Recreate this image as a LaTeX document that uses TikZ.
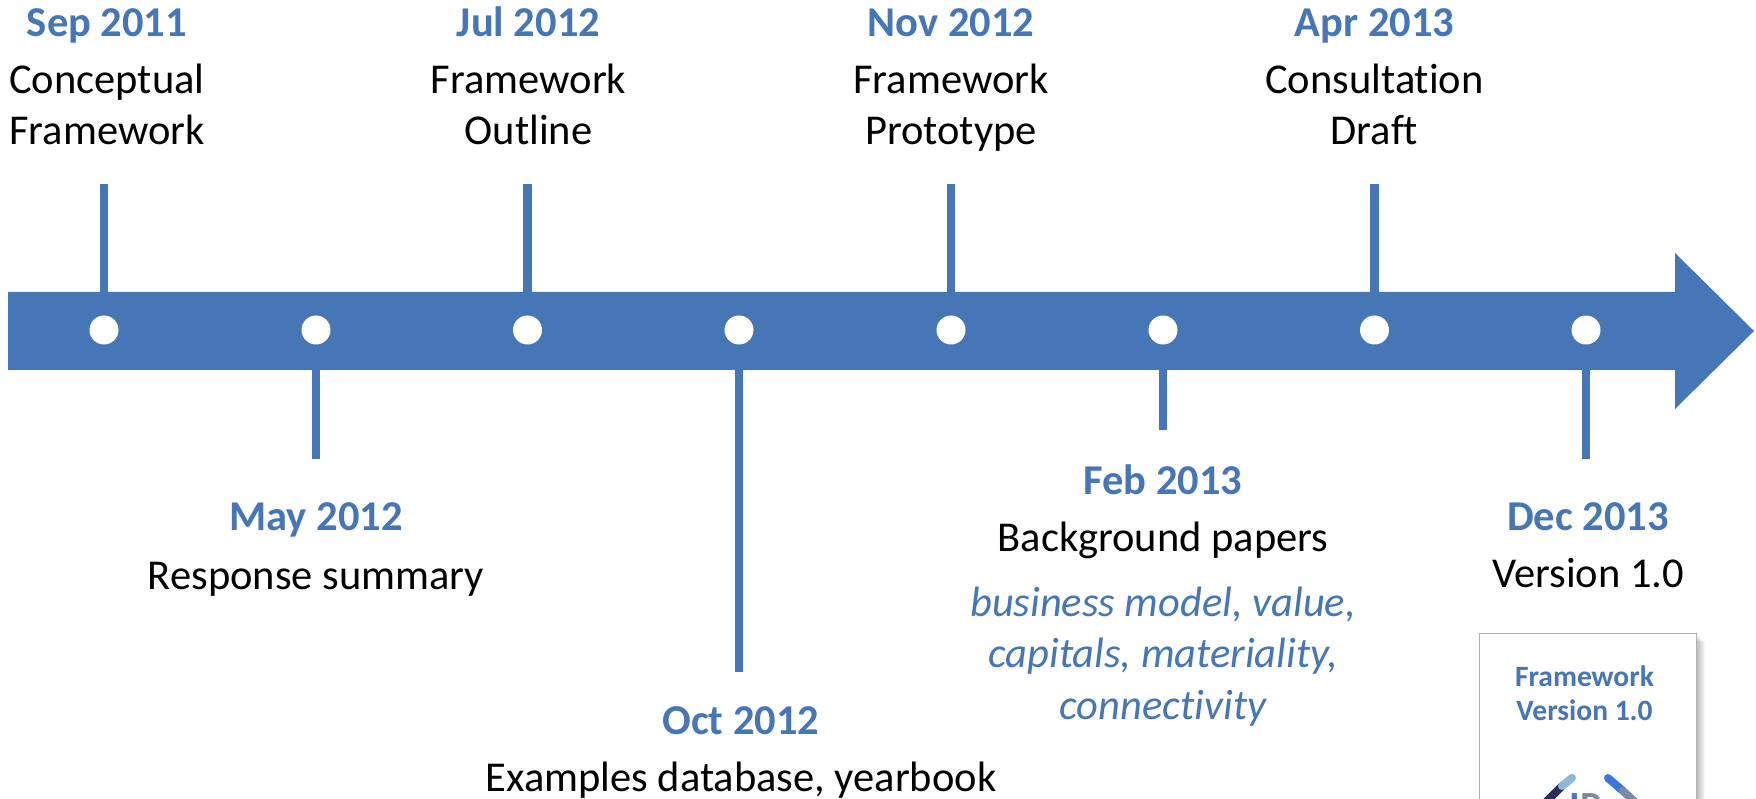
\documentclass[tikz,border=0pt]{standalone}
\usepackage{fontspec}
\setmainfont[Ligatures=NoCommon]{Carlito}
\usetikzlibrary{positioning}
\definecolor{barblue}{RGB}{70,118,181}
\definecolor{logodark}{RGB}{45,45,90}
\definecolor{logolight}{RGB}{140,185,210}
\definecolor{logoblue}{RGB}{60,120,220}
\definecolor{logogrey}{RGB}{120,140,165}
\begin{document}
\begin{tikzpicture}
              [x=1pt,y=-1pt,
                every node/.style={draw=none,fill=none,inner sep=0pt,outer sep=0pt},
                dot/.style={circle,fill=white,minimum size=29pt},
                stem/.style={draw=barblue,line width=8.5pt},
                date/.style={font=\fontsize{42.5}{51}\selectfont\bfseries,text=barblue,text height=29pt,text depth=9pt},
                desc/.style={font=\fontsize{42.5}{51.5}\selectfont,align=center,execute at begin node=\strut},
                topic/.style={font=\fontsize{42.5}{51.5}\selectfont\itshape,text=barblue,align=center,execute at begin node=\strut},
                logoline/.style={line width=8pt,line cap=round}]
              \useasboundingbox (0,0) rectangle (1756,799);
              % stems go under the bar
              \foreach \name/\x/\y in {s1/104/184,s2/316/459,s3/527.5/184,s4/739/672,s5/951/184,s6/1163/430,s7/1374.5/184,s8/1586/459}
              \coordinate (\name) at (\x,\y);
              \foreach \name/\x in {d1/104,d2/316,d3/527.5,d4/739,d5/951,d6/1163,d7/1374.5,d8/1586}
              \coordinate (\name) at (\x,330);
              \foreach \from/\to in {d1/s1,d2/s2,d3/s3,d4/s4,d5/s5,d6/s6,d7/s7,d8/s8}
              \draw[stem] (\from) -- (\to);
              \fill[barblue] (8,292) -- (1675,292) -- (1675,253) -- (1754,331) -- (1675,409) -- (1675,370) -- (8,370) -- cycle;
              \foreach \name/\x in {n1/104,n2/316,n3/527.5,n4/739,n5/951,n6/1163,n7/1374.5,n8/1586}
              \node[dot] (\name) at (\x,330) {};
              % labels above the bar
              \node[date] (t1) [above=138pt of s1,xshift=3pt] {Sep 2011};
              \node[desc] (l1) [below=17.5pt of t1] {Conceptual\\Framework};
              \node[date] (t3) [above=138pt of s3,xshift=1pt] {Jul 2012};
              \node[desc] (l3) [below=17.5pt of t3] {Framework\\Outline};
              \node[date] (t5) [above=138pt of s5] {Nov 2012};
              \node[desc] (l5) [below=17.5pt of t5] {Framework\\Prototype};
              \node[date] (t7) [above=138pt of s7] {Apr 2013};
              \node[desc] (l7) [below=17.5pt of t7] {Consultation\\Draft};
              % labels under the bar
              \node[date] (t2) [below=42pt of s2] {May 2012};
              \node[desc] (l2) [below=14pt of t2] {Response summary};
              \node[date] (t4) [below=33pt of s4,xshift=2pt] {Oct 2012};
              \node[desc] (l4) [below=12pt of t4] {Examples database, yearbook};
              \node[date] (t6) [below=35pt of s6] {Feb 2013};
              \node[desc] (l6) [below=12.8pt of t6] {Background papers};
              \node[topic] (i6) [below=19.5pt of l6] {business model, value,\\capitals, materiality,\\connectivity};
              \node[date] (t8) [below=42pt of s8,xshift=2pt] {Dec 2013};
              \node[desc] (l8) [below=12.8pt of t8] {Version 1.0};
              % report cover with a soft shadow
              \foreach \off in {1,2,...,9}
              \fill[black,opacity=0.035] (1479+\off,633+\off) rectangle (1696+\off,820);
              \fill[white,draw=black!30,line width=1pt] (1479,633) rectangle (1696,820);
              \node[font=\fontsize{29.5}{34}\selectfont\bfseries,text=barblue,align=center] (c1) at (1584.5,693) {Framework\\Version 1.0};
              \begin{scope}
              \clip (1480,634) rectangle (1695,799);
              \node[anchor=base east,font=\fontsize{40}{40}\selectfont\bfseries,text=logoblue] (c2) at (1580,819) {I};
              \node[anchor=base west,font=\fontsize{40}{40}\selectfont\bfseries,text=logogrey] (c3) at (c2.base east) {R};
              \draw[logodark,logoline] (1545,803) -- (1562,786);
              \draw[logolight,logoline] (1562,786) -- (1572,778);
              \draw[logoblue,logoline] (1608,778) -- (1623,791);
              \draw[logogrey,logoline] (1623,791) -- (1636,803);
              \end{scope}
            \end{tikzpicture}
\end{document}
